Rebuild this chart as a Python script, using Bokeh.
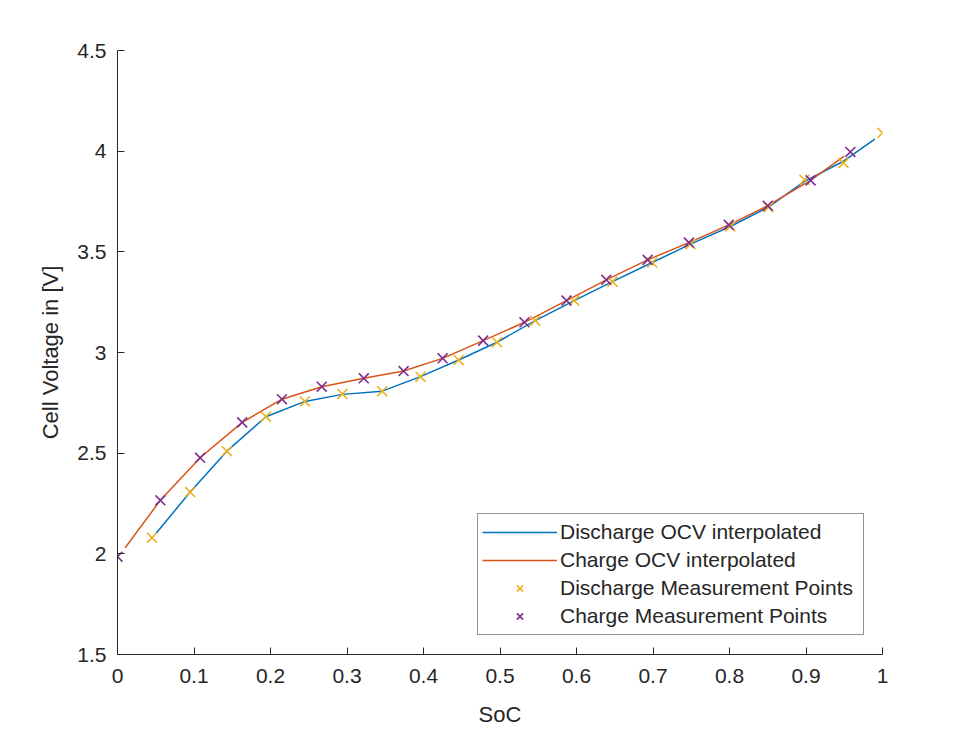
from bokeh.plotting import figure
from bokeh.models import Range1d, FixedTicker, Legend, LegendItem
from bokeh.embed import file_html
from bokeh.resources import INLINE

# Open-circuit voltage of the cell versus state of charge
# Measured points (discharge and charge direction)
discharge_soc = [0.045, 0.095, 0.143, 0.194, 0.245, 0.294, 0.346, 0.396, 0.446, 0.496,
                 0.546, 0.597, 0.647, 0.699, 0.749, 0.801, 0.851, 0.898, 0.949, 1.0]
discharge_v = [2.080, 2.307, 2.510, 2.681, 2.757, 2.794, 2.808, 2.880, 2.963, 3.051,
               3.158, 3.258, 3.352, 3.447, 3.538, 3.626, 3.722, 3.858, 3.941, 4.091]

charge_soc = [0.0, 0.056, 0.108, 0.163, 0.215, 0.267, 0.322, 0.374, 0.425, 0.478,
              0.532, 0.587, 0.639, 0.693, 0.747, 0.799, 0.850, 0.906, 0.958]
charge_v = [1.986, 2.266, 2.477, 2.653, 2.768, 2.830, 2.872, 2.908, 2.971, 3.059,
            3.150, 3.258, 3.361, 3.460, 3.546, 3.634, 3.729, 3.855, 3.996]

# Interpolated OCV curves (evaluated on the 0.01 SoC grid inside the measured range)
discharge_curve_soc = [0.05, 0.095, 0.143, 0.194, 0.245, 0.294, 0.346, 0.396, 0.446, 0.496,
                       0.546, 0.597, 0.647, 0.699, 0.749, 0.801, 0.851, 0.898, 0.949, 0.99]
discharge_curve_v = [2.100, 2.307, 2.510, 2.681, 2.757, 2.792, 2.808, 2.880, 2.963, 3.051,
                     3.158, 3.258, 3.352, 3.447, 3.538, 3.626, 3.722, 3.850, 3.950, 4.060]

charge_curve_soc = [0.01, 0.056, 0.108, 0.163, 0.215, 0.267, 0.322, 0.374, 0.425, 0.478,
                    0.532, 0.587, 0.639, 0.693, 0.747, 0.799, 0.850, 0.906, 0.95]
charge_curve_v = [2.030, 2.266, 2.477, 2.653, 2.768, 2.830, 2.872, 2.908, 2.971, 3.059,
                  3.150, 3.258, 3.361, 3.460, 3.546, 3.634, 3.729, 3.855, 3.975]

x_ticks = [0, 0.1, 0.2, 0.3, 0.4, 0.5, 0.6, 0.7, 0.8, 0.9, 1.0]
x_tick_labels = ["0", "0.1", "0.2", "0.3", "0.4", "0.5", "0.6", "0.7", "0.8", "0.9", "1"]
y_ticks = [1.5, 2.0, 2.5, 3.0, 3.5, 4.0, 4.5]
y_tick_labels = ["1.5", "2", "2.5", "3", "3.5", "4", "4.5"]

BLUE = "#0072BD"
ORANGE = "#D95319"
YELLOW = "#EDB120"
PURPLE = "#7E2F8E"
INK = "#262626"
FONT = "Liberation Sans"

p = figure(width=966, height=734, output_backend="svg", toolbar_location=None,
           x_range=Range1d(0, 1), y_range=Range1d(1.5, 4.5),
           min_border_left=117, min_border_right=84, min_border_top=50, min_border_bottom=80)
p.outline_line_color = None
p.xgrid.visible = False
p.ygrid.visible = False
p.background_fill_color = "white"
p.border_fill_color = "white"

for ax, ticks, labels in ((p.xaxis[0], x_ticks, x_tick_labels), (p.yaxis[0], y_ticks, y_tick_labels)):
    ax.ticker = FixedTicker(ticks=ticks)
    ax.major_label_overrides = {t: l for t, l in zip(ticks, labels)}
    ax.minor_tick_line_color = None
    ax.major_tick_in = 7
    ax.major_tick_out = 0
    ax.axis_line_color = INK
    ax.major_tick_line_color = INK
    ax.major_label_text_color = INK
    ax.major_label_text_font = FONT
    ax.major_label_text_font_size = "21px"
    ax.axis_label_text_font = FONT
    ax.axis_label_text_font_size = "22px"
    ax.axis_label_text_font_style = "normal"
    ax.axis_label_text_color = INK

p.xaxis.axis_label = "SoC"
p.yaxis.axis_label = "Cell Voltage in [V]"
p.xaxis.major_label_standoff = 14
p.yaxis.major_label_standoff = 11
p.xaxis.axis_label_standoff = 16
p.yaxis.axis_label_standoff = 11

l_dis = p.line(discharge_curve_soc, discharge_curve_v, line_color=BLUE, line_width=1.5)
l_chg = p.line(charge_curve_soc, charge_curve_v, line_color=ORANGE, line_width=1.5)
m_dis = p.scatter(discharge_soc, discharge_v, marker="x", size=14, line_color=YELLOW, line_width=1.6)
m_chg = p.scatter(charge_soc, charge_v, marker="x", size=14, line_color=PURPLE, line_width=1.6)

legend = Legend(items=[
    LegendItem(label="Discharge OCV interpolated", renderers=[l_dis]),
    LegendItem(label="Charge OCV interpolated", renderers=[l_chg]),
    LegendItem(label="Discharge Measurement Points", renderers=[m_dis]),
    LegendItem(label="Charge Measurement Points", renderers=[m_chg]),
], location=(360, 19))
legend.margin = 0
legend.padding = 4
legend.spacing = 0
legend.glyph_width = 75
legend.glyph_height = 22
legend.label_height = 28
legend.label_width = 299
legend.label_standoff = 3
legend.label_text_font = FONT
legend.label_text_font_size = "21px"
legend.label_text_color = INK
legend.border_line_color = INK
legend.border_line_width = 1
legend.background_fill_color = "white"
legend.background_fill_alpha = 1.0
p.add_layout(legend)

open("out.html", "w").write(file_html(p, INLINE))
